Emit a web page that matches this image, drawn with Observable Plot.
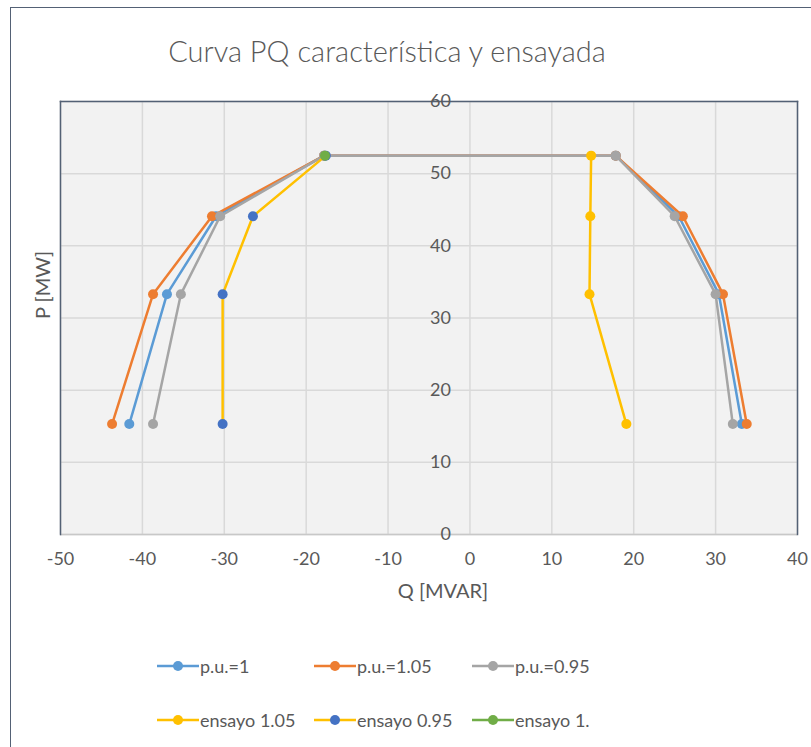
<!DOCTYPE html>
<html>
<head>
<meta charset="utf-8">
<script src="https://cdn.jsdelivr.net/npm/d3@7"></script>
<script src="https://cdn.jsdelivr.net/npm/@observablehq/plot@0.6"></script>
<style>
  html, body { margin: 0; padding: 0; background: #fff; }
  #wrap { position: relative; width: 811px; height: 747px; overflow: hidden; font-family: Lato, sans-serif; }
  #outer { position: absolute; left: 10px; top: 7px; width: 900px; height: 900px; border: 1.5px solid #536175; box-sizing: border-box; }
  #title { position: absolute; left: 0; width: 774px; top: 36px; line-height: 1; text-align: center; font-size: 29px; color: #595959; font-family: Lato, sans-serif; font-weight: 300; }
  #chart { position: absolute; left: 0; top: 0; }
  .leg { position: absolute; display: flex; align-items: center; font-size: 18px; color: #595959; height: 20px; line-height: 1; }
  .leg svg { display: block; margin-right: 1px; }
</style>
</head>
<body>
<div id="wrap">
  <div id="outer"></div>
  <div id="chart"></div>
  <div id="title">Curva PQ característica y ensayada</div>
  <div id="legend"></div>
</div>
<script>
// ---- data ----
const xTicks = [-50, -40, -30, -20, -10, 0, 10, 20, 30, 40];
const yTicks = [0, 10, 20, 30, 40, 50, 60];

const curveP = [15.3, 33.3, 44.1, 52.5, 52.5, 44.1, 33.3, 15.3];
const pu1Q   = [-41.6, -37.0, -31.0, -17.8, 17.8, 25.5, 30.4, 33.2];
const pu105Q = [-43.7, -38.7, -31.5, -17.8, 17.8, 26.0, 30.9, 33.8];
const pu095Q = [-38.7, -35.3, -30.5, -17.8, 17.8, 25.0, 30.0, 32.1];

const ens105Q = [14.8, 14.7, 14.6, 19.1];
const ens105P = [52.5, 44.1, 33.3, 15.3];
const ens095Q = [-17.6, -26.5, -30.2, -30.2];
const ens095P = [52.5, 44.1, 33.3, 15.3];
const ens1Q = [-17.7];
const ens1P = [52.5];

const seriesNames = ["p.u.=1", "p.u.=1.05", "p.u.=0.95", "ensayo 1.05", "ensayo 0.95", "ensayo 1."];

// ---- styles ----
const series = [
  {name: seriesNames[0], Q: pu1Q,   P: curveP,  line: "#5b9bd5", dot: "#5b9bd5"},
  {name: seriesNames[1], Q: pu105Q, P: curveP,  line: "#ed7d31", dot: "#ed7d31"},
  {name: seriesNames[2], Q: pu095Q, P: curveP,  line: "#a5a5a5", dot: "#a5a5a5"},
  {name: seriesNames[3], Q: ens105Q, P: ens105P, line: "#ffc000", dot: "#ffc000"},
  {name: seriesNames[4], Q: ens095Q, P: ens095P, line: "#ffc000", dot: "#4472c4"},
  {name: seriesNames[5], Q: ens1Q,  P: ens1P,   line: "#70ad47", dot: "#70ad47"}
];

const textColor = "#595959";
const marks = [
  Plot.frame({fill: "#f2f2f2", stroke: null}),
  Plot.gridX(xTicks, {stroke: "#d9d9d9", strokeOpacity: 1, strokeWidth: 1.5}),
  Plot.gridY(yTicks, {stroke: "#d9d9d9", strokeOpacity: 1, strokeWidth: 1.5}),
  Plot.ruleY([0], {stroke: "#c8c8c8", strokeWidth: 1.5}),
  Plot.frame({stroke: "#536175", strokeWidth: 1.5, anchor: "left"}),
  Plot.frame({stroke: "#536175", strokeWidth: 1.5, anchor: "top"}),
  Plot.frame({stroke: "#536175", strokeWidth: 1.5, anchor: "right"})
];
for (const s of series) {
  const rows = s.Q.map((q, i) => ({q, p: s.P[i]}));
  marks.push(Plot.line(rows, {x: "q", y: "p", stroke: s.line, strokeWidth: 2.5, curve: "linear"}));
  marks.push(Plot.dot(rows, {x: "q", y: "p", r: 5, fill: s.dot, stroke: null}));
}
marks.push(
  Plot.axisX(xTicks, {tickSize: 0, tickPadding: 18, fontSize: 18, color: textColor, label: null, tickFormat: d => String(d)}),
  Plot.text(yTicks, {x: 0, y: d => d, text: d => String(d), textAnchor: "end", dx: -19, fontSize: 18, fill: textColor}),
  Plot.text(["Q [MVAR]"], {frameAnchor: "bottom", dy: 63, dx: 14, fontSize: 20, fill: textColor}),
  Plot.text(["P [MW]"], {frameAnchor: "left", rotate: -90, dx: -17, dy: 1, fontSize: 20, fill: textColor})
);

const chart = Plot.plot({
  width: 811,
  height: 747,
  marginLeft: 60,
  marginRight: 14,
  marginTop: 101,
  marginBottom: 213,
  style: {background: "transparent", fontFamily: "Lato, sans-serif", overflow: "visible"},
  x: {domain: [-50, 40], axis: null},
  y: {domain: [0, 60], axis: null},
  marks
});
document.getElementById("chart").appendChild(chart);

// ---- legend ----
const legendPos = [
  {x: 157, y: 666}, {x: 314, y: 666}, {x: 472, y: 666},
  {x: 157, y: 720}, {x: 314, y: 720}, {x: 472, y: 720}
];
const legend = document.getElementById("legend");
series.forEach((s, i) => {
  const div = document.createElement("div");
  div.className = "leg";
  div.style.left = legendPos[i].x + "px";
  div.style.top = (legendPos[i].y - 10) + "px";
  div.innerHTML = `<svg width="42" height="12"><line x1="0" x2="42" y1="6" y2="6" stroke="${s.line}" stroke-width="2.5"/><circle cx="21" cy="6" r="5" fill="${s.dot}"/></svg><span>${s.name}</span>`;
  legend.appendChild(div);
});
</script>
</body>
</html>
